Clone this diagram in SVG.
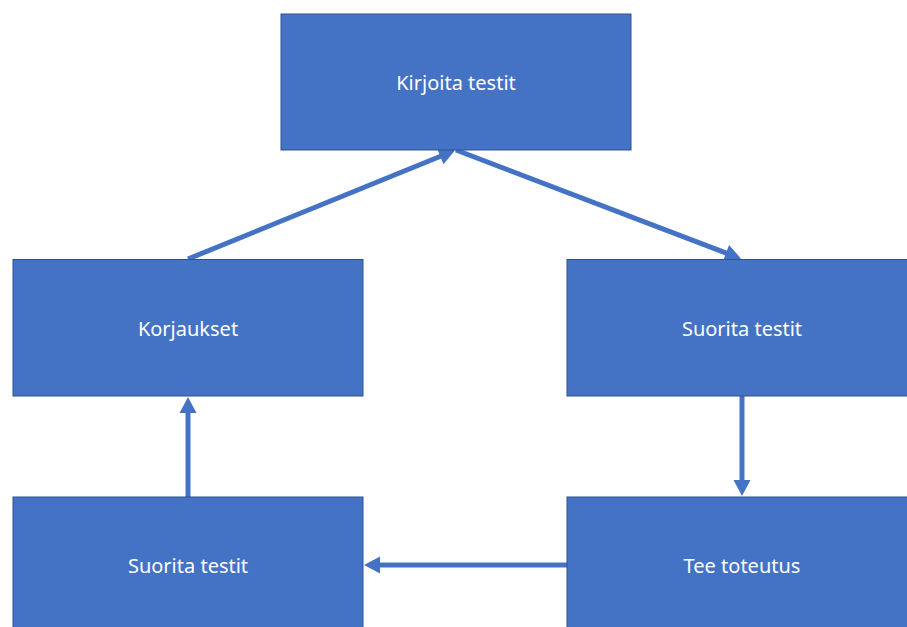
<svg xmlns="http://www.w3.org/2000/svg" width="907" height="627" viewBox="0 0 907 627">
  <style>
    .box { fill: #4472C4; stroke: #2F528F; stroke-width: 1; }
    .label { fill: #FFFFFF; font-family: "Noto Sans", "Open Sans", "Liberation Sans", sans-serif; font-size: 20px; text-anchor: middle; }
    .flow { stroke: #4472C4; stroke-width: 5; fill: none; marker-end: url(#head); }
  </style>
  <defs>
    <marker id="head" markerUnits="userSpaceOnUse" markerWidth="17" markerHeight="17" refX="1" refY="8.5" orient="auto" overflow="visible">
      <path d="M0,0 L16,8.5 L0,17 Z" fill="#4472C4"/>
    </marker>
  </defs>
  <rect width="907" height="627" fill="#FFFFFF"/>

  <g id="connectors">
    <line class="flow" x1="188" y1="259" x2="441.2" y2="156"/>
    <line class="flow" x1="456" y1="150" x2="727" y2="253.3"/>
    <line class="flow" x1="742" y1="396" x2="742" y2="481"/>
    <line class="flow" x1="567" y1="565" x2="379" y2="565"/>
    <line class="flow" x1="188" y1="497" x2="188" y2="412"/>
  </g>

  <g id="kirjoita-testit">
    <rect class="box" x="281" y="14" width="350" height="136"/>
    <text class="label" x="456" y="89.5">Kirjoita testit</text>
  </g>
  <g id="korjaukset">
    <rect class="box" x="13" y="259.5" width="350" height="136.5"/>
    <text class="label" x="188" y="335.5">Korjaukset</text>
  </g>
  <g id="suorita-testit-1">
    <rect class="box" x="567" y="259.5" width="350" height="136.5"/>
    <text class="label" x="742" y="335.5">Suorita testit</text>
  </g>
  <g id="tee-toteutus">
    <rect class="box" x="567" y="497" width="350" height="136"/>
    <text class="label" x="742" y="573">Tee toteutus</text>
  </g>
  <g id="suorita-testit-2">
    <rect class="box" x="13" y="497" width="350" height="136"/>
    <text class="label" x="188" y="573">Suorita testit</text>
  </g>
</svg>
